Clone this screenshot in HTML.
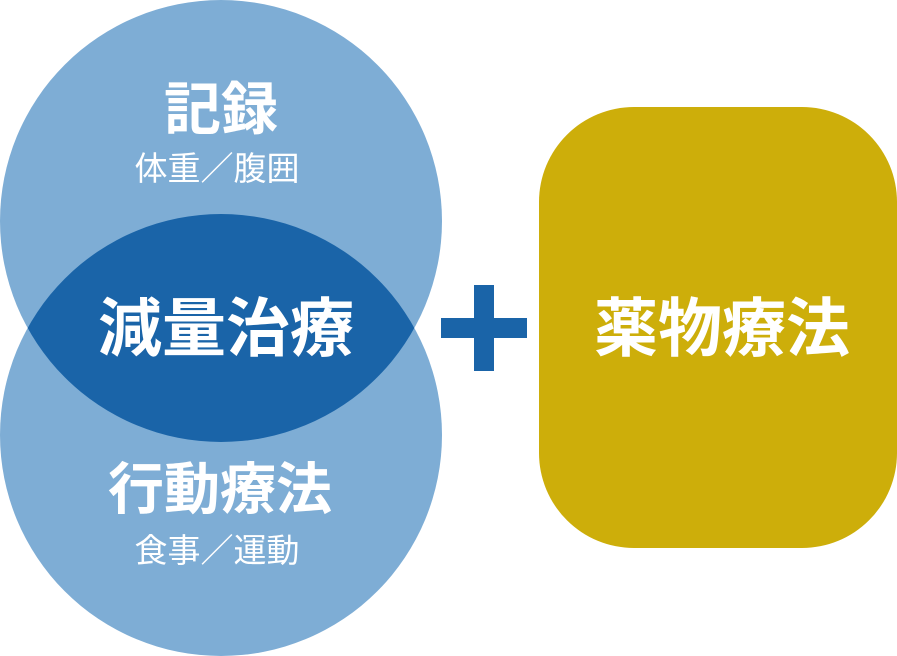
<!DOCTYPE html>
<html><head><meta charset="utf-8"><style>html,body{margin:0;padding:0;background:#fff}svg{display:block}text{font-family:"Liberation Sans","Noto Sans CJK JP",sans-serif;fill:#fff;text-anchor:middle}</style></head>
<body>
<svg width="897" height="656" viewBox="0 0 897 656">
<defs><clipPath id="c"><circle cx="221" cy="221" r="221"/></clipPath></defs>
<circle cx="221" cy="221" r="221" fill="#7eadd5"/>
<circle cx="221" cy="435" r="221" fill="#7eadd5"/>
<circle cx="221" cy="435" r="221" fill="#1a64a8" clip-path="url(#c)"/>
<rect x="539" y="107" width="358" height="441" rx="95" fill="#cdae0a"/>
<rect x="441" y="318" width="86" height="20" fill="#1a64a8"/>
<rect x="474" y="285" width="20" height="86" fill="#1a64a8"/>
<text x="221" y="129" font-size="57" font-weight="bold">記録</text>
<text x="217" y="180" font-size="33">体重／腹囲</text>
<text x="226" y="351" font-size="64" font-weight="bold">減量治療</text>
<text x="220" y="509" font-size="56" font-weight="bold">行動療法</text>
<text x="217" y="562" font-size="33">食事／運動</text>
<text x="722" y="351" font-size="64" font-weight="bold">薬物療法</text>
</svg>
</body></html>
